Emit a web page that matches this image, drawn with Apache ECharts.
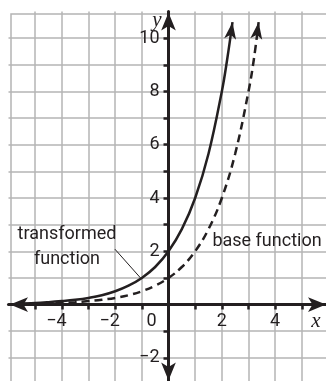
<!DOCTYPE html>
<html>
<head>
<meta charset="utf-8">
<script src="https://cdn.jsdelivr.net/npm/echarts@6/dist/echarts.min.js"></script>
<style>
  html, body { margin: 0; padding: 0; background: #fff; }
  #chart { width: 326px; height: 381px; }
</style>
</head>
<body>
<div id="chart"></div>
<script>
// Transformed function (solid curve)
const transformedX = [-5.7, -5, -4.5, -4, -3.5, -3, -2.5, -2, -1.5, -1, -0.5, 0, 0.5, 1, 1.5, 2, 2.2, 2.4];
const transformedY = [0.04, 0.06, 0.09, 0.13, 0.18, 0.25, 0.35, 0.5, 0.71, 1, 1.41, 2, 2.83, 4, 5.66, 8, 9.2, 10.6];

// Base function (dashed curve)
const baseX = [-5.7, -5, -4.5, -4, -3.5, -3, -2.5, -2, -1.5, -1, -0.5, 0, 0.5, 1, 1.5, 2, 2.5, 3, 3.2, 3.38];
const baseY = [0.02, 0.03, 0.04, 0.06, 0.09, 0.13, 0.18, 0.25, 0.35, 0.5, 0.71, 1, 1.41, 2, 2.83, 4, 5.66, 8, 9.2, 10.6];

// Axis ticks and labels
const xTicks = [-5, -4, -3, -2, -1, 1, 2, 3, 4, 5];
const xLabels = [-4, -2, 0, 2, 4];
const yTicks = [-2, -1, 1, 2, 3, 4, 5, 6, 7, 8, 9, 10];
const yLabels = [-2, 2, 4, 6, 8, 10];

// Leader line from the "transformed function" label to its curve
const leaderStart = [-2.01, 2.08];
const leaderEnd = [-1.05, 1.0];

const X_MIN = -6, X_MAX = 6, Y_MIN = -3, Y_MAX = 11;
const INK = '#231f20';
const GRID_GREY = '#b4b4b4';
const FONT = 'Roboto';

// Plot area in pixels; the axes are shifted from the plot edges to the origin
const G = { left: 8.5, top: 11.5, width: 320, height: 373 };
const xOffset = -G.height * (0 - Y_MIN) / (Y_MAX - Y_MIN);
const yOffset = -G.width * (0 - X_MIN) / (X_MAX - X_MIN);

const pairs = (xs, ys) => xs.map((x, i) => [x, ys[i]]);
const minus = v => (v < 0 ? '\u2212' + Math.abs(v) : String(v));
const endArrow = n => (val, params) => (params.dataIndex === n - 1 ? 'arrow' : 'none');

const chart = echarts.init(document.getElementById('chart'), null, { renderer: 'canvas' });

chart.setOption({
  animation: false,
  backgroundColor: '#fff',
  grid: {
    left: G.left, top: G.top, width: G.width, height: G.height,
    containLabel: false, outerBoundsMode: 'none', show: false
  },
  xAxis: {
    type: 'value', min: X_MIN, max: X_MAX, interval: 1,
    position: 'bottom', offset: xOffset,
    axisLine: {
      onZero: false,
      lineStyle: { color: INK, width: 3 },
      symbol: ['arrow', 'arrow'], symbolSize: [11, 18], symbolOffset: [1.5, -2.5]
    },
    axisTick: { show: true, customValues: xTicks, length: 5, lineStyle: { color: INK, width: 2.5 } },
    axisLabel: {
      customValues: xLabels,
      margin: 8, color: INK, fontFamily: FONT, fontSize: 18,
      formatter: v => {
        if (!xLabels.includes(v)) return '';
        if (v === 0) return '{d|0}{gap0|}';
        if (v < 0) return '{d|\u2212' + Math.abs(v) + '}{gapm|}';
        return '{d|' + v + '}';
      },
      rich: {
        d: { color: INK, fontFamily: FONT, fontSize: 18 },
        gapm: { width: 11 },
        gap0: { width: 34 }
      }
    },
    splitLine: { show: true, lineStyle: { color: GRID_GREY, width: 1.5 } }
  },
  yAxis: {
    type: 'value', min: Y_MIN, max: Y_MAX, interval: 1,
    position: 'left', offset: yOffset,
    axisLine: {
      onZero: false,
      lineStyle: { color: INK, width: 3 },
      symbol: ['arrow', 'arrow'], symbolSize: [11, 18], symbolOffset: [4, -1]
    },
    axisTick: { show: true, customValues: yTicks, length: 5, lineStyle: { color: INK, width: 2.5 } },
    axisLabel: {
      customValues: yLabels,
      margin: 9, color: INK, fontFamily: FONT, fontSize: 18,
      formatter: v => (yLabels.includes(v) ? minus(v) : '')
    },
    splitLine: { show: true, lineStyle: { color: GRID_GREY, width: 1.5 } }
  },
  graphic: [
    { type: 'rect', left: G.left, top: G.top, shape: { width: 330, height: 380 }, style: { fill: 'none', stroke: GRID_GREY, lineWidth: 1.5 }, z: -1, silent: true },
    { type: 'text', x: 157, y: 20, style: { text: 'y', font: 'italic 21px "Liberation Serif"', fill: INK, align: 'center', verticalAlign: 'middle' }, z: 10 },
    { type: 'text', x: 316, y: 321, style: { text: 'x', font: 'italic 21px "Liberation Serif"', fill: INK, align: 'center', verticalAlign: 'middle' }, z: 10 },
    { type: 'text', x: 67, y: 247, style: { text: 'transformed\nfunction', font: '18px Roboto', lineHeight: 25, fill: INK, align: 'center', verticalAlign: 'middle' }, z: 10 },
    { type: 'text', x: 267, y: 241, style: { text: 'base function', font: '18px Roboto', fill: INK, align: 'center', verticalAlign: 'middle' }, z: 10 }
  ],
  series: [
    {
      name: 'transformed function', type: 'line', data: pairs(transformedX, transformedY),
      smooth: 0.4, clip: false,
      showSymbol: true, showAllSymbol: true,
      symbol: endArrow(transformedX.length), symbolSize: [9, 17], symbolRotate: -8,
      itemStyle: { color: INK },
      lineStyle: { color: INK, width: 2.5 },
      z: 5,
      markLine: {
        silent: true, symbol: ['none', 'none'], label: { show: false },
        lineStyle: { color: INK, width: 1, type: 'solid' },
        data: [[{ coord: leaderStart }, { coord: leaderEnd }]]
      }
    },
    {
      name: 'base function', type: 'line', data: pairs(baseX, baseY),
      smooth: 0.4, clip: false,
      showSymbol: true, showAllSymbol: true,
      symbol: endArrow(baseX.length), symbolSize: [9, 17], symbolRotate: -8,
      itemStyle: { color: INK },
      lineStyle: { color: INK, width: 2.5, type: [8, 5] },
      z: 5
    }
  ]
});
</script>
</body>
</html>
